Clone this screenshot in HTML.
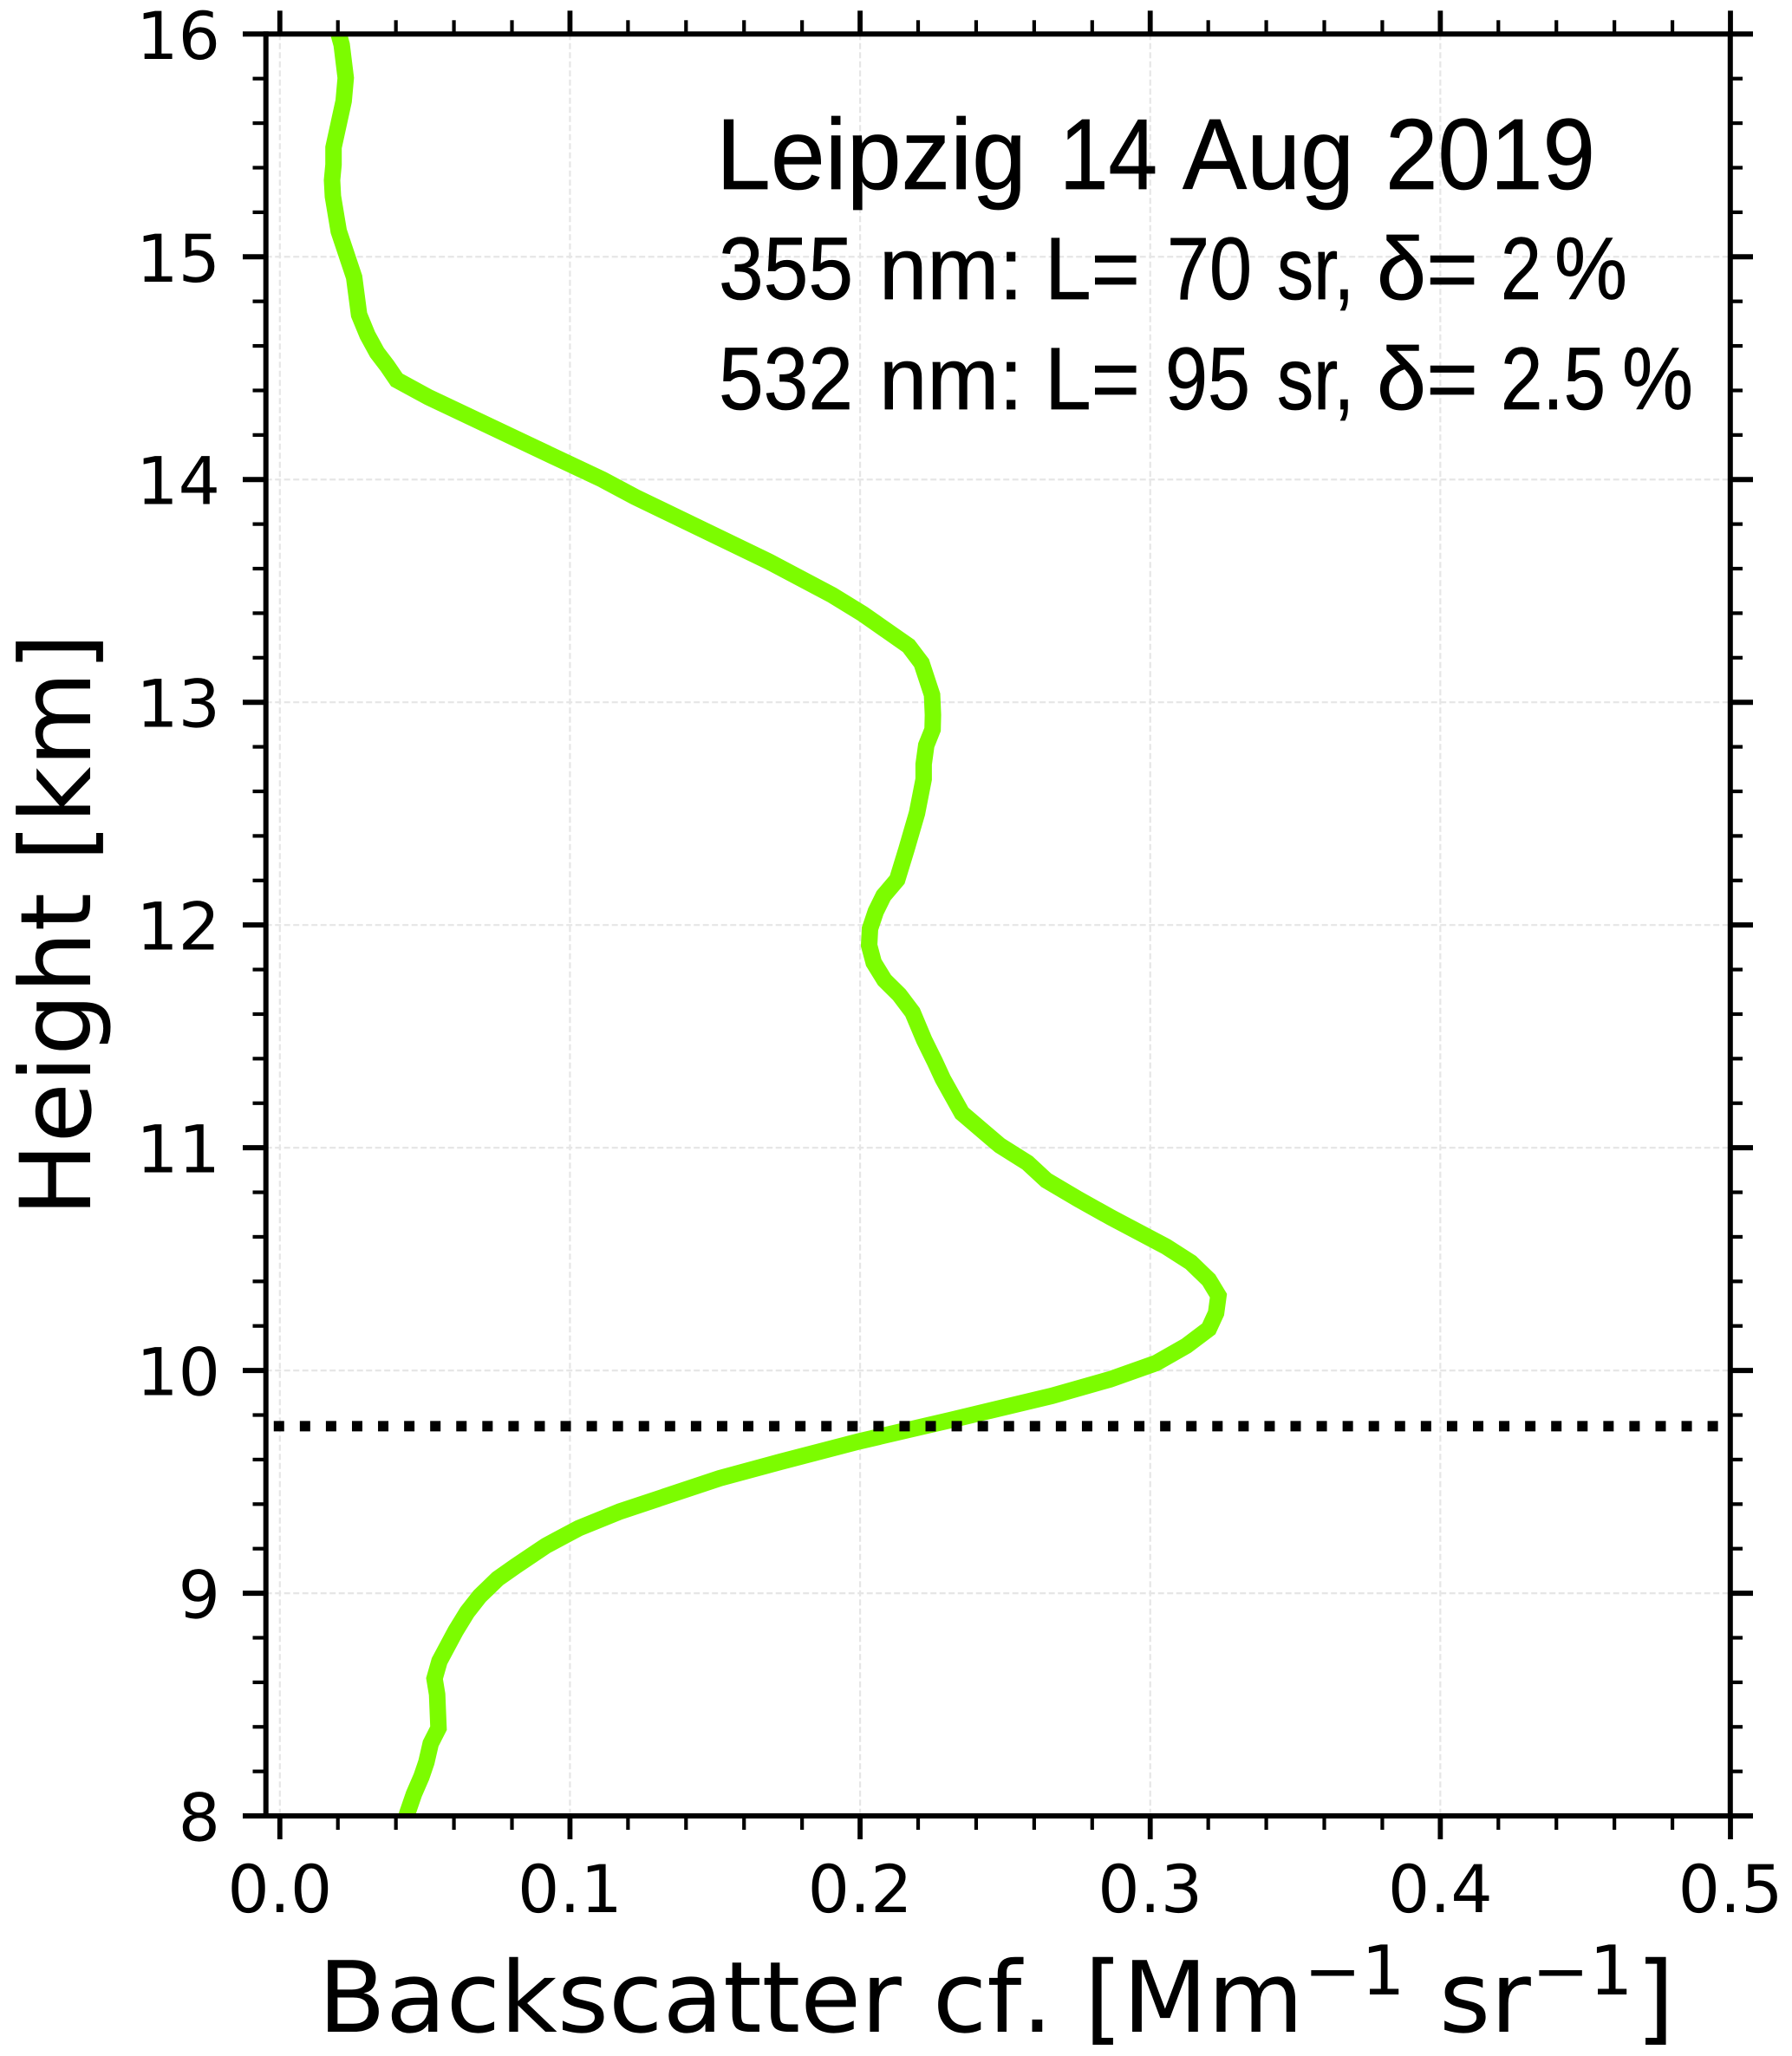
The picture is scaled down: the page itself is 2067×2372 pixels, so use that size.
<!DOCTYPE html>
<html lang="en">
<head>
<meta charset="utf-8">
<title>Leipzig 14 Aug 2019 backscatter profile</title>
<style>
  html, body { margin: 0; padding: 0; background: #fff; }
  svg { display: block; }
  .dj { font-family: "DejaVu Sans", sans-serif; fill: #000; font-kerning: none; text-rendering: geometricPrecision; }
  .an { font-family: "Liberation Sans", sans-serif; fill: #000; stroke: #000; stroke-width: 0.7; }
</style>
</head>
<body>
<svg id="chart" xmlns="http://www.w3.org/2000/svg" width="2067" height="2372" viewBox="0 0 2067 2372">
  <defs><clipPath id="plot-clip"><rect x="306.7" y="39.3" width="1689" height="2056"/></clipPath></defs>
  <rect x="0" y="0" width="2067" height="2372" fill="#fff"/>
  <g id="grid"></g>
  <g id="series" clip-path="url(#plot-clip)"></g>
  <g id="axes"></g>

  <text class="dj" font-size="113" text-anchor="middle" transform="translate(104,1067) rotate(-90)">Height [km]</text>

  <g>
    <text class="dj" font-size="113.6" x="367" y="2344" textLength="1136.6" lengthAdjust="spacing">Backscatter cf. [Mm</text>
    <text class="dj" font-size="79" x="1504" y="2301">−1</text>
    <text class="dj" font-size="113.6" x="1660" y="2344">sr</text>
    <text class="dj" font-size="79" x="1767" y="2301">−1</text>
    <text class="dj" font-size="113.6" x="1887" y="2344">]</text>
  </g>

  <g>
    <text class="an" font-size="116" x="826" y="218" textLength="358" lengthAdjust="spacingAndGlyphs">Leipzig</text>
    <text class="an" font-size="116" x="1222" y="218" textLength="113" lengthAdjust="spacingAndGlyphs">14</text>
    <text class="an" font-size="116" x="1364" y="218" textLength="198" lengthAdjust="spacingAndGlyphs">Aug</text>
    <text class="an" font-size="116" x="1598" y="218" textLength="242" lengthAdjust="spacingAndGlyphs">2019</text>
  </g>
  <g>
    <text class="an" font-size="102" x="829" y="345" textLength="155" lengthAdjust="spacingAndGlyphs">355</text>
    <text class="an" font-size="102" x="1014" y="345" textLength="166" lengthAdjust="spacingAndGlyphs">nm:</text>
    <text class="an" font-size="102" x="1205" y="345" textLength="110" lengthAdjust="spacingAndGlyphs">L=</text>
    <text class="an" font-size="102" x="1346" y="345" textLength="98" lengthAdjust="spacingAndGlyphs">70</text>
    <text class="an" font-size="102" x="1473" y="345" textLength="89" lengthAdjust="spacingAndGlyphs">sr,</text>
    <text class="an" font-size="102" x="1588" y="345" textLength="117" lengthAdjust="spacingAndGlyphs">δ=</text>
    <text class="an" font-size="102" x="1731" y="345" textLength="47" lengthAdjust="spacingAndGlyphs">2</text>
    <text class="an" font-size="102" x="1793" y="345" textLength="84" lengthAdjust="spacingAndGlyphs">%</text>
  </g>
  <g>
    <text class="an" font-size="102" x="829" y="472" textLength="155" lengthAdjust="spacingAndGlyphs">532</text>
    <text class="an" font-size="102" x="1014" y="472" textLength="166" lengthAdjust="spacingAndGlyphs">nm:</text>
    <text class="an" font-size="102" x="1205" y="472" textLength="110" lengthAdjust="spacingAndGlyphs">L=</text>
    <text class="an" font-size="102" x="1344" y="472" textLength="98" lengthAdjust="spacingAndGlyphs">95</text>
    <text class="an" font-size="102" x="1473" y="472" textLength="89" lengthAdjust="spacingAndGlyphs">sr,</text>
    <text class="an" font-size="102" x="1588" y="472" textLength="117" lengthAdjust="spacingAndGlyphs">δ=</text>
    <text class="an" font-size="102" x="1731" y="472" textLength="121" lengthAdjust="spacingAndGlyphs">2.5</text>
    <text class="an" font-size="102" x="1871" y="472" textLength="82" lengthAdjust="spacingAndGlyphs">%</text>
  </g>
</svg>
<script>
const xTickLabels = ["0.0", "0.1", "0.2", "0.3", "0.4", "0.5"];
const xTickValues = [0, 0.1, 0.2, 0.3, 0.4, 0.5];
const xMinorValues = [0.02, 0.04, 0.06, 0.08, 0.12, 0.14, 0.16, 0.18, 0.22, 0.24, 0.26, 0.28, 0.32, 0.34, 0.36, 0.38, 0.42, 0.44, 0.46, 0.48];
const yTickValues = [8, 9, 10, 11, 12, 13, 14, 15, 16];
const yTickLabels = ["8", "9", "10", "11", "12", "13", "14", "15", "16"];
const yMinorSteps = [0.2, 0.4, 0.6, 0.8];
const referenceHeight = [9.75];
const referenceRange = [-0.0021, 0.5];
const backscatter = [
  0.0203, 0.0213, 0.0227, 0.0220, 0.0185, 0.0185, 0.0180, 0.0183, 0.0203, 0.0256,
  0.0273, 0.0302, 0.0335, 0.0369, 0.0403, 0.0512, 0.0985, 0.1112, 0.1224, 0.1688,
  0.1904, 0.2009, 0.2167, 0.2212, 0.2248, 0.2251, 0.2250, 0.2228, 0.2219, 0.2219,
  0.2196, 0.2160, 0.2128, 0.2081, 0.2054, 0.2034, 0.2031, 0.2047, 0.2084, 0.2135,
  0.2181, 0.2221, 0.2258, 0.2285, 0.2351, 0.2482, 0.2577, 0.2642, 0.2751, 0.2866,
  0.3055, 0.3140, 0.3202, 0.3235, 0.3227, 0.3202, 0.3125, 0.3020, 0.2861, 0.2661,
  0.2442, 0.2313, 0.1994, 0.1725, 0.1516, 0.1172, 0.1030, 0.0918, 0.0813, 0.0751,
  0.0689, 0.0646, 0.0606, 0.0550, 0.0533, 0.0542, 0.0547, 0.0520, 0.0505, 0.0488,
  0.0462, 0.0440, 0.0437
];
const height = [
  16.000, 15.952, 15.803, 15.699, 15.491, 15.414, 15.344, 15.271, 15.115, 14.908,
  14.740, 14.648, 14.570, 14.512, 14.447, 14.370, 14.078, 14.000, 13.922, 13.630,
  13.481, 13.397, 13.253, 13.176, 13.033, 12.943, 12.878, 12.807, 12.722, 12.655,
  12.502, 12.340, 12.204, 12.132, 12.061, 11.983, 11.909, 11.831, 11.753, 11.687,
  11.608, 11.484, 11.386, 11.309, 11.156, 11.010, 10.932, 10.854, 10.770, 10.686,
  10.556, 10.485, 10.407, 10.336, 10.258, 10.187, 10.111, 10.033, 9.960, 9.886,
  9.818, 9.778, 9.681, 9.590, 9.516, 9.367, 9.292, 9.214, 9.122, 9.065,
  8.987, 8.916, 8.831, 8.695, 8.617, 8.546, 8.394, 8.325, 8.241, 8.176,
  8.098, 8.014, 8.000
];

const NS = "http://www.w3.org/2000/svg";
const X0 = 322.8, XPER = 3346.4;
const Y16 = 39.3, YPER = 256.97;
const LEFT = 306.7, RIGHT = 1995.8, TOP = 39.3, BOTTOM = 2095;
function xScale(v) { return X0 + v * XPER; }
function yScale(v) { return Y16 + (16 - v) * YPER; }

function mkLine(parent, x1, y1, x2, y2, width, color) {
  const l = document.createElementNS(NS, "line");
  l.setAttribute("x1", x1);
  l.setAttribute("y1", y1);
  l.setAttribute("x2", x2);
  l.setAttribute("y2", y2);
  l.setAttribute("stroke", color);
  l.setAttribute("stroke-width", width);
  parent.appendChild(l);
  return l;
}
function mkText(parent, x, y, str, anchor) {
  const t = document.createElementNS(NS, "text");
  t.setAttribute("x", x);
  t.setAttribute("y", y);
  t.setAttribute("text-anchor", anchor);
  t.setAttribute("font-size", "76");
  t.setAttribute("class", "dj");
  t.textContent = str;
  parent.appendChild(t);
  return t;
}

const gridG = document.getElementById("grid");
const axesG = document.getElementById("axes");
const seriesG = document.getElementById("series");

xTickValues.slice(0, -1).forEach(function (v) {
  const g = mkLine(gridG, xScale(v), TOP, xScale(v), BOTTOM, 2.2, "#e6e6e6");
  g.setAttribute("stroke-dasharray", "7 3.5");
  
  
});
yTickValues.slice(1, -1).forEach(function (v) {
  const g = mkLine(gridG, LEFT, yScale(v), RIGHT, yScale(v), 2.2, "#e6e6e6");
  g.setAttribute("stroke-dasharray", "7 3.5");
  
  
});

const curve = document.createElementNS(NS, "polyline");
curve.setAttribute("points", backscatter.map(function (v, i) {
  return xScale(v).toFixed(1) + "," + yScale(height[i]).toFixed(1);
}).join(" "));
curve.setAttribute("fill", "none");
curve.setAttribute("stroke", "#7cfc00");
curve.setAttribute("stroke-width", "19");
curve.setAttribute("stroke-linejoin", "miter");
curve.setAttribute("stroke-miterlimit", "4");


seriesG.appendChild(curve);

const refLine = mkLine(seriesG, xScale(referenceRange[0]), yScale(referenceHeight[0]), xScale(referenceRange[1]), yScale(referenceHeight[0]), 12, "#000");
refLine.setAttribute("stroke-dasharray", "12 18.07");



xTickValues.forEach(function (v, i) {
  const px = xScale(v);
  const b = mkLine(axesG, px, BOTTOM, px, BOTTOM + 27, 5.8, "#000");
  
  
  const t = mkLine(axesG, px, TOP, px, TOP - 27, 5.8, "#000");
  
  
  const lab = mkText(axesG, px, 2206, xTickLabels[i], "middle");
  
  
});
xMinorValues.forEach(function (v) {
  const px = xScale(v);
  const b = mkLine(axesG, px, BOTTOM, px, BOTTOM + 16, 4.2, "#000");
  
  
  const t = mkLine(axesG, px, TOP, px, TOP - 16, 4.2, "#000");
  
  
});
yTickValues.forEach(function (v, i) {
  const py = yScale(v);
  const l = mkLine(axesG, LEFT, py, 280, py, 6, "#000");
  
  
  const r = mkLine(axesG, RIGHT, py, 2022, py, 6, "#000");
  
  
  const lab = mkText(axesG, 254, py + 28.5, yTickLabels[i], "end");
  
  
  if (i < yTickValues.length - 1) {
    yMinorSteps.forEach(function (s) {
      const my = yScale(v + s);
      const ml = mkLine(axesG, LEFT, my, 291.5, my, 4.2, "#000");
      
      
      const mr = mkLine(axesG, RIGHT, my, 2010, my, 4.2, "#000");
      
      
    });
  }
});

const spineL = mkLine(axesG, LEFT, TOP - 3, LEFT, BOTTOM + 3, 6, "#000");


const spineR = mkLine(axesG, RIGHT, TOP - 3, RIGHT, BOTTOM + 3, 6, "#000");


const spineT = mkLine(axesG, LEFT, TOP, RIGHT, TOP, 6, "#000");


const spineB = mkLine(axesG, LEFT, BOTTOM, RIGHT, BOTTOM, 6, "#000");


</script>
</body>
</html>
